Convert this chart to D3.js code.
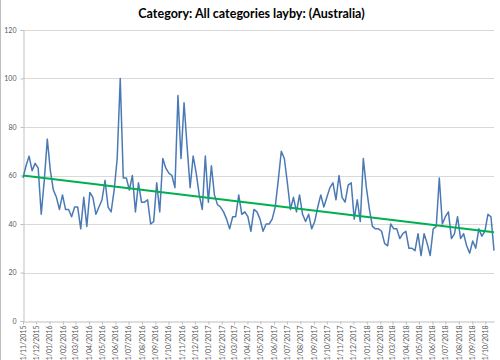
<!DOCTYPE html>
<html><head><meta charset="utf-8">
<script src="https://cdn.jsdelivr.net/npm/d3@7/dist/d3.min.js"></script>
<style>body{margin:0;background:#fff}svg{display:block}</style>
</head><body><svg id="chart" width="500" height="360"></svg>
<script>
const chartTitle = "Category: All categories layby: (Australia)";
const startDate = "2015-11-01";   // first weekly observation
const values = [
  59,64,68,62,65,63,44,58,75,62,
  54,51,46,52,46,46,43,47,47,38,
  51,39,53,51,44,47,50,58,47,45,
  54,67,100,59,59,54,60,45,57,49,
  49,50,40,41,57,45,67,63,61,60,
  55,93,67,90,72,55,68,61,52,46,
  68,49,64,52,48,47,45,42,38,43,
  43,52,44,45,43,37,46,45,42,37,
  40,40,42,47,58,70,67,57,46,51,
  45,52,44,41,44,38,41,47,52,47,
  51,55,57,50,60,51,49,56,57,42,
  50,41,67,55,46,39,38,38,37,32,
  31,40,38,38,34,36,37,30,30,29,
  36,27,36,32,27,38,39,59,40,43,
  45,34,36,43,34,36,31,28,33,30,
  38,35,37,44,43,29
];
const yTicks = [0,20,40,60,80,100,120];
const xTickLabels = [
  "1/11/2015","1/12/2015","1/01/2016","1/02/2016","1/03/2016","1/04/2016",
  "1/05/2016","1/06/2016","1/07/2016","1/08/2016","1/09/2016","1/10/2016",
  "1/11/2016","1/12/2016","1/01/2017","1/02/2017","1/03/2017","1/04/2017",
  "1/05/2017","1/06/2017","1/07/2017","1/08/2017","1/09/2017","1/10/2017",
  "1/11/2017","1/12/2017","1/01/2018","1/02/2018","1/03/2018","1/04/2018",
  "1/05/2018","1/06/2018","1/07/2018","1/08/2018","1/09/2018","1/10/2018"
];

(function () {
const parseDay = d3.timeParse("%Y-%m-%d");
const parseLabel = d3.timeParse("%d/%m/%Y");
const t0 = parseDay(startDate);
const data = values.map((v, i) => ({date: d3.timeDay.offset(t0, i * 7), value: v, i}));

const svg = d3.select("#chart");
const font = "Lato, 'Liberation Sans', sans-serif";
const mLeft = 23, mRight = 494, mTop = 30, mBottom = 321;

const x = d3.scaleTime().domain([data[0].date, data[data.length - 1].date]).range([mLeft, mRight]);
const y = d3.scaleLinear().domain([0, 120]).range([mBottom, mTop]);

// chart-area left border
svg.append("line").attr("x1", 0.5).attr("x2", 0.5).attr("y1", 0).attr("y2", 360)
  .attr("stroke", "#bfbfbf").attr("stroke-width", 1);

// title
svg.append("text").attr("x", 251.5).attr("y", 18).attr("text-anchor", "middle")
  .attr("font-family", font).attr("font-weight", "bold").attr("font-size", 12.5)
  .attr("fill", "#000").text(chartTitle);

// gridlines
svg.append("g").selectAll("line").data(yTicks.filter(d => d > 0)).join("line")
  .attr("x1", mLeft).attr("x2", mRight)
  .attr("y1", d => Math.round(y(d)) + 0.5).attr("y2", d => Math.round(y(d)) + 0.5)
  .attr("stroke", "#d9d9d9").attr("stroke-width", 1);

// y axis
const yAxis = svg.append("g").attr("transform", `translate(${mLeft + 0.5},0)`)
  .call(d3.axisLeft(y).tickValues(yTicks).tickSize(3).tickPadding(4).tickFormat(d3.format("d")));
yAxis.select(".domain").attr("stroke", "#bfbfbf");
yAxis.selectAll(".tick line").attr("stroke", "#bfbfbf");
yAxis.selectAll("text").attr("font-family", font).attr("font-size", 7).attr("fill", "#595959");

// x axis
const xTickDates = xTickLabels.map(s => parseLabel(s));
const xAxis = svg.append("g").attr("transform", `translate(0,${mBottom + 0.5})`)
  .call(d3.axisBottom(x).tickValues(xTickDates).tickSize(3).tickSizeOuter(0)
    .tickFormat((d, i) => xTickLabels[i]));
xAxis.select(".domain").attr("stroke", "#bfbfbf");
xAxis.selectAll(".tick line").attr("stroke", "#bfbfbf");
xAxis.selectAll("text")
  .attr("font-family", font).attr("font-size", 7).attr("fill", "#595959")
  .attr("text-anchor", "end").attr("transform", "rotate(-90)")
  .attr("x", -4).attr("y", 0).attr("dy", "0.32em");

// series line
svg.append("path").datum(data)
  .attr("fill", "none").attr("stroke", "#4a7ab5").attr("stroke-width", 1.5)
  .attr("stroke-linejoin", "round")
  .attr("d", d3.line().x(d => x(d.date)).y(d => y(d.value)));

// linear trendline (least squares)
const n = data.length;
const mx = d3.mean(data, d => d.i), my = d3.mean(data, d => d.value);
const slope = d3.sum(data, d => (d.i - mx) * (d.value - my)) / d3.sum(data, d => (d.i - mx) ** 2);
const icpt = my - slope * mx;
const trend = [data[0], data[n - 1]].map(d => ({date: d.date, value: icpt + slope * d.i}));
svg.append("path").datum(trend)
  .attr("fill", "none").attr("stroke", "#00b050").attr("stroke-width", 2)
  .attr("d", d3.line().x(d => x(d.date)).y(d => y(d.value)));
})();
</script>
</body></html>
